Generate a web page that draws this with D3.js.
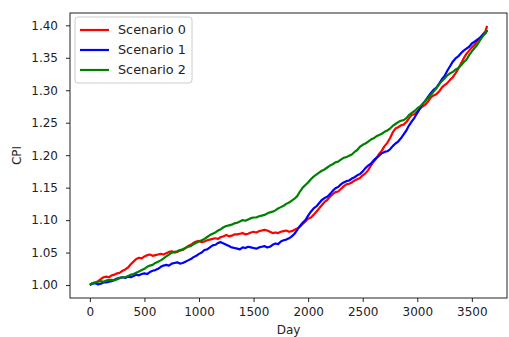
<!DOCTYPE html>
<html>
<head>
<meta charset="utf-8">
<script src="https://cdn.jsdelivr.net/npm/d3@7"></script>
<style>
  html, body { margin: 0; padding: 0; background: #fff; }
  svg { display: block; font-family: "DejaVu Sans", sans-serif; }
</style>
</head>
<body>
<svg id="chart" width="509" height="337"></svg>
<script>
// Sampling days (every 25 days, last sample on day 3640)
const days = [
  0, 25, 50, 75, 100, 125, 150, 175, 200, 225,
  250, 275, 300, 325, 350, 375, 400, 425, 450, 475,
  500, 525, 550, 575, 600, 625, 650, 675, 700, 725,
  750, 775, 800, 825, 850, 875, 900, 925, 950, 975,
  1000, 1025, 1050, 1075, 1100, 1125, 1150, 1175, 1200, 1225,
  1250, 1275, 1300, 1325, 1350, 1375, 1400, 1425, 1450, 1475,
  1500, 1525, 1550, 1575, 1600, 1625, 1650, 1675, 1700, 1725,
  1750, 1775, 1800, 1825, 1850, 1875, 1900, 1925, 1950, 1975,
  2000, 2025, 2050, 2075, 2100, 2125, 2150, 2175, 2200, 2225,
  2250, 2275, 2300, 2325, 2350, 2375, 2400, 2425, 2450, 2475,
  2500, 2525, 2550, 2575, 2600, 2625, 2650, 2675, 2700, 2725,
  2750, 2775, 2800, 2825, 2850, 2875, 2900, 2925, 2950, 2975,
  3000, 3025, 3050, 3075, 3100, 3125, 3150, 3175, 3200, 3225,
  3250, 3275, 3300, 3325, 3350, 3375, 3400, 3425, 3450, 3475,
  3500, 3525, 3550, 3575, 3600, 3625, 3640
];

const scenario0 = [
  1.000, 1.003, 1.004, 1.006, 1.009, 1.012, 1.013, 1.012, 1.015, 1.016,
  1.018, 1.019, 1.022, 1.024, 1.027, 1.032, 1.036, 1.040, 1.042, 1.041,
  1.044, 1.046, 1.047, 1.045, 1.046, 1.047, 1.048, 1.047, 1.049, 1.051,
  1.052, 1.050, 1.051, 1.053, 1.054, 1.057, 1.060, 1.062, 1.065, 1.067,
  1.068, 1.066, 1.067, 1.069, 1.070, 1.071, 1.072, 1.071, 1.074, 1.075,
  1.077, 1.075, 1.076, 1.078, 1.078, 1.079, 1.080, 1.078, 1.079, 1.081,
  1.082, 1.081, 1.083, 1.084, 1.085, 1.084, 1.082, 1.080, 1.081, 1.080,
  1.082, 1.083, 1.084, 1.082, 1.083, 1.085, 1.087, 1.090, 1.094, 1.098,
  1.102, 1.104, 1.108, 1.113, 1.118, 1.123, 1.128, 1.131, 1.136, 1.140,
  1.143, 1.144, 1.148, 1.152, 1.155, 1.156, 1.158, 1.161, 1.163, 1.165,
  1.169, 1.172, 1.177, 1.184, 1.190, 1.195, 1.202, 1.207, 1.214, 1.219,
  1.226, 1.235, 1.241, 1.243, 1.246, 1.247, 1.251, 1.257, 1.262, 1.263,
  1.267, 1.272, 1.275, 1.278, 1.283, 1.289, 1.292, 1.294, 1.298, 1.304,
  1.308, 1.311, 1.316, 1.320, 1.326, 1.333, 1.341, 1.349, 1.356, 1.361,
  1.366, 1.370, 1.376, 1.380, 1.386, 1.391, 1.399
];

const scenario1 = [
  1.001, 1.002, 1.003, 1.001, 1.002, 1.004, 1.004, 1.005, 1.006, 1.008,
  1.010, 1.011, 1.012, 1.011, 1.013, 1.012, 1.014, 1.016, 1.015, 1.017,
  1.018, 1.017, 1.020, 1.022, 1.023, 1.025, 1.028, 1.030, 1.031, 1.030,
  1.033, 1.034, 1.035, 1.033, 1.034, 1.036, 1.038, 1.040, 1.043, 1.045,
  1.048, 1.050, 1.054, 1.055, 1.058, 1.061, 1.062, 1.065, 1.066, 1.064,
  1.062, 1.060, 1.058, 1.057, 1.056, 1.055, 1.058, 1.057, 1.059, 1.058,
  1.057, 1.056, 1.058, 1.059, 1.060, 1.058, 1.059, 1.062, 1.064, 1.063,
  1.067, 1.069, 1.070, 1.072, 1.075, 1.079, 1.085, 1.091, 1.096, 1.100,
  1.107, 1.113, 1.118, 1.121, 1.126, 1.131, 1.134, 1.136, 1.140, 1.145,
  1.149, 1.151, 1.155, 1.158, 1.160, 1.161, 1.164, 1.166, 1.169, 1.171,
  1.175, 1.180, 1.184, 1.187, 1.192, 1.196, 1.199, 1.203, 1.205, 1.206,
  1.209, 1.214, 1.218, 1.221, 1.226, 1.232, 1.238, 1.246, 1.252, 1.258,
  1.265, 1.272, 1.279, 1.284, 1.290, 1.296, 1.301, 1.304, 1.310, 1.317,
  1.322, 1.330, 1.337, 1.344, 1.349, 1.352, 1.357, 1.361, 1.364, 1.367,
  1.372, 1.375, 1.378, 1.381, 1.385, 1.388, 1.392
];

const scenario2 = [
  1.000, 1.003, 1.004, 1.005, 1.006, 1.005, 1.007, 1.008, 1.008, 1.007,
  1.009, 1.011, 1.012, 1.012, 1.014, 1.016, 1.017, 1.019, 1.021, 1.023,
  1.025, 1.028, 1.030, 1.031, 1.034, 1.036, 1.038, 1.041, 1.044, 1.047,
  1.050, 1.051, 1.052, 1.054, 1.055, 1.057, 1.059, 1.060, 1.063, 1.065,
  1.067, 1.069, 1.071, 1.074, 1.077, 1.079, 1.081, 1.084, 1.086, 1.089,
  1.091, 1.092, 1.093, 1.095, 1.096, 1.098, 1.100, 1.099, 1.101, 1.103,
  1.104, 1.104, 1.106, 1.107, 1.108, 1.110, 1.112, 1.113, 1.115, 1.118,
  1.120, 1.122, 1.125, 1.127, 1.130, 1.133, 1.137, 1.144, 1.150, 1.154,
  1.158, 1.163, 1.167, 1.170, 1.173, 1.176, 1.178, 1.181, 1.184, 1.186,
  1.189, 1.190, 1.193, 1.196, 1.197, 1.199, 1.201, 1.205, 1.208, 1.213,
  1.216, 1.218, 1.221, 1.224, 1.226, 1.229, 1.231, 1.233, 1.236, 1.238,
  1.241, 1.245, 1.248, 1.251, 1.253, 1.254, 1.257, 1.262, 1.265, 1.268,
  1.272, 1.275, 1.279, 1.284, 1.288, 1.293, 1.298, 1.303, 1.309, 1.314,
  1.318, 1.323, 1.326, 1.328, 1.332, 1.334, 1.338, 1.343, 1.347, 1.354,
  1.360, 1.365, 1.370, 1.377, 1.383, 1.388, 1.393
];

const seriesNames = ["Scenario 0", "Scenario 1", "Scenario 2"];
const seriesColors = ["#ff0000", "#0000ff", "#008000"];
const xTicks = [0, 500, 1000, 1500, 2000, 2500, 3000, 3500];
const yTicks = [1.00, 1.05, 1.10, 1.15, 1.20, 1.25, 1.30, 1.35, 1.40];
const xLabel = "Day";
const yLabel = "CPI";

const allSeries = [scenario0, scenario1, scenario2];

const svg = d3.select("#chart");
const plot = { left: 70, right: 507, top: 13, bottom: 298 };

// Axis limits padded by 5% of the data span on each side
const xMin = d3.min(days), xMax = d3.max(days);
const xPad = (xMax - xMin) * 0.05;
const yMin = d3.min(allSeries.flat()), yMax = d3.max(allSeries.flat());
const yPad = (yMax - yMin) * 0.05;

const x = d3.scaleLinear()
  .domain([xMin - xPad, xMax + xPad])
  .range([plot.left, plot.right]);
const y = d3.scaleLinear()
  .domain([yMin - yPad, yMax + yPad])
  .range([plot.bottom, plot.top]);

// Lines
const line = d3.line()
  .x((d, i) => x(days[i]))
  .y(d => y(d));

svg.append("g")
  .selectAll("path")
  .data(allSeries)
  .join("path")
  .attr("fill", "none")
  .attr("stroke", (d, i) => seriesColors[i])
  .attr("stroke-width", 2.2)
  .attr("stroke-linejoin", "round")
  .attr("d", line);

// Axes
const xAxis = svg.append("g")
  .attr("transform", `translate(0,${plot.bottom})`)
  .call(d3.axisBottom(x).tickValues(xTicks).tickFormat(d3.format("d"))
    .tickSize(4).tickPadding(5));
const yAxis = svg.append("g")
  .attr("transform", `translate(${plot.left},0)`)
  .call(d3.axisLeft(y).tickValues(yTicks).tickFormat(d3.format(".2f"))
    .tickSize(4).tickPadding(8));

[xAxis, yAxis].forEach(a => {
  a.select(".domain").remove();
  a.selectAll(".tick line").attr("stroke", "#222");
  a.selectAll(".tick text")
    .attr("fill", "#222")
    .style("font-size", "12px")
    .style("font-family", "'DejaVu Sans', sans-serif");
});

// Frame around the plotting area
svg.append("rect")
  .attr("x", plot.left)
  .attr("y", plot.top)
  .attr("width", plot.right - plot.left)
  .attr("height", plot.bottom - plot.top)
  .attr("fill", "none")
  .attr("stroke", "#222")
  .attr("stroke-width", 1);

// Axis titles
svg.append("text")
  .attr("x", (plot.left + plot.right) / 2)
  .attr("y", 334)
  .attr("text-anchor", "middle")
  .attr("fill", "#222")
  .style("font-size", "12px")
  .text(xLabel);

svg.append("text")
  .attr("transform", `translate(21,${(plot.top + plot.bottom) / 2}) rotate(-90)`)
  .attr("text-anchor", "middle")
  .attr("fill", "#222")
  .style("font-size", "12px")
  .text(yLabel);

// Legend
const legend = svg.append("g").attr("transform", "translate(75,17)");
legend.append("rect")
  .attr("x", 0).attr("y", 0)
  .attr("width", 117).attr("height", 66)
  .attr("rx", 3)
  .attr("fill", "#fff")
  .attr("fill-opacity", 0.8)
  .attr("stroke", "#ccc");

const entries = legend.selectAll("g.entry")
  .data(seriesNames)
  .join("g")
  .attr("class", "entry")
  .attr("transform", (d, i) => `translate(0,${13 + i * 20})`);
entries.append("line")
  .attr("x1", 5).attr("x2", 34)
  .attr("stroke", (d, i) => seriesColors[i])
  .attr("stroke-width", 2.2);
entries.append("text")
  .attr("x", 43)
  .attr("dy", "0.35em")
  .attr("fill", "#222")
  .style("font-size", "12.8px")
  .text(d => d);
</script>
</body>
</html>
